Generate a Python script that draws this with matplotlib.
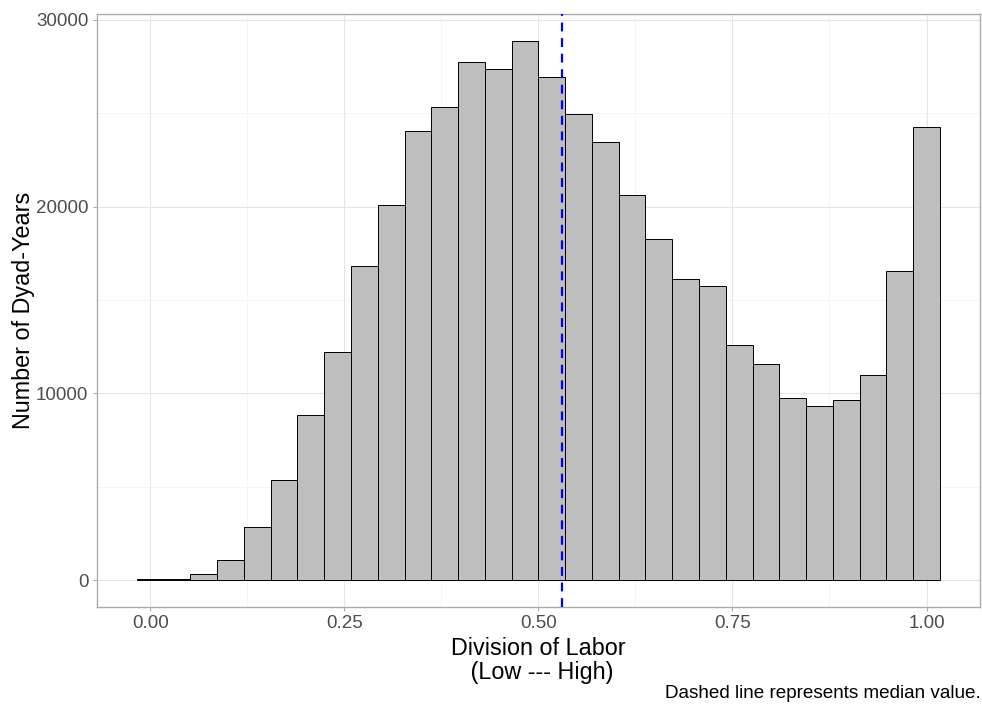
import numpy as np
import matplotlib.pyplot as plt

plt.rcParams['font.family'] = ['Liberation Sans', 'DejaVu Sans']

# histogram counts, 30 bins (ggplot default), centres at k/29
counts = [40, 75, 320, 1070, 2850, 5345, 8840, 12190, 16800, 20060,
          24050, 25330, 27720, 27380, 28850, 26940, 24960, 23460, 20600, 18260,
          16140, 15750, 12610, 11580, 9750, 9340, 9640, 10990, 16570, 24260]
n_bins = len(counts)
bin_width = 1.0 / (n_bins - 1)
centres = np.arange(n_bins) * bin_width
median_value = 0.531

x_ticks = [0.0, 0.25, 0.5, 0.75, 1.0]
x_labels = ["0.00", "0.25", "0.50", "0.75", "1.00"]
y_ticks = [0, 10000, 20000, 30000]
y_labels = ["0", "10000", "20000", "30000"]

fig = plt.figure(figsize=(9.82, 7.06), dpi=100)
ax = fig.add_axes([0.0985, 0.1402, 0.8995, 0.8395])

ax.bar(centres, counts, width=bin_width, color='#BEBEBE',
       edgecolor='black', linewidth=0.7, zorder=2)
ax.axvline(median_value, color='blue', linestyle=(0, (4, 3)), lw=1.6, zorder=3)

lo, hi = -bin_width / 2, 1 + bin_width / 2
pad = (hi - lo) * 0.05
ax.set_xlim(lo - pad, hi + pad)
ymax = max(counts)
ax.set_ylim(-ymax * 0.05, ymax * 1.05)

ax.set_xticks(x_ticks)
ax.set_xticklabels(x_labels)
ax.set_yticks(y_ticks)
ax.set_yticklabels(y_labels)
ax.set_xticks([0.125, 0.375, 0.625, 0.875], minor=True)
ax.set_yticks([5000, 15000, 25000], minor=True)

ax.grid(True, which='major', color='#E6E6E6', lw=0.8, zorder=0)
ax.grid(True, which='minor', color='#F2F2F2', lw=0.5, zorder=0)
ax.set_axisbelow(True)
for s in ax.spines.values():
    s.set_color('#ABABAB')
    s.set_linewidth(1.0)

ax.tick_params(axis='both', which='major', length=3, width=0.8, color='#ABABAB',
               labelsize=13.5, labelcolor='#4D4D4D', pad=3)
ax.tick_params(axis='both', which='minor', length=0)

ax.set_xlabel("Division of Labor\n (Low --- High)", fontsize=16.8, labelpad=3,
              linespacing=1.1)
ax.set_ylabel("Number of Dyad-Years", fontsize=16.8, labelpad=1)

fig.text(0.999, 0.006, "Dashed line represents median value.",
         ha='right', va='bottom', fontsize=13.6)

fig.savefig("out.png", dpi=100)
